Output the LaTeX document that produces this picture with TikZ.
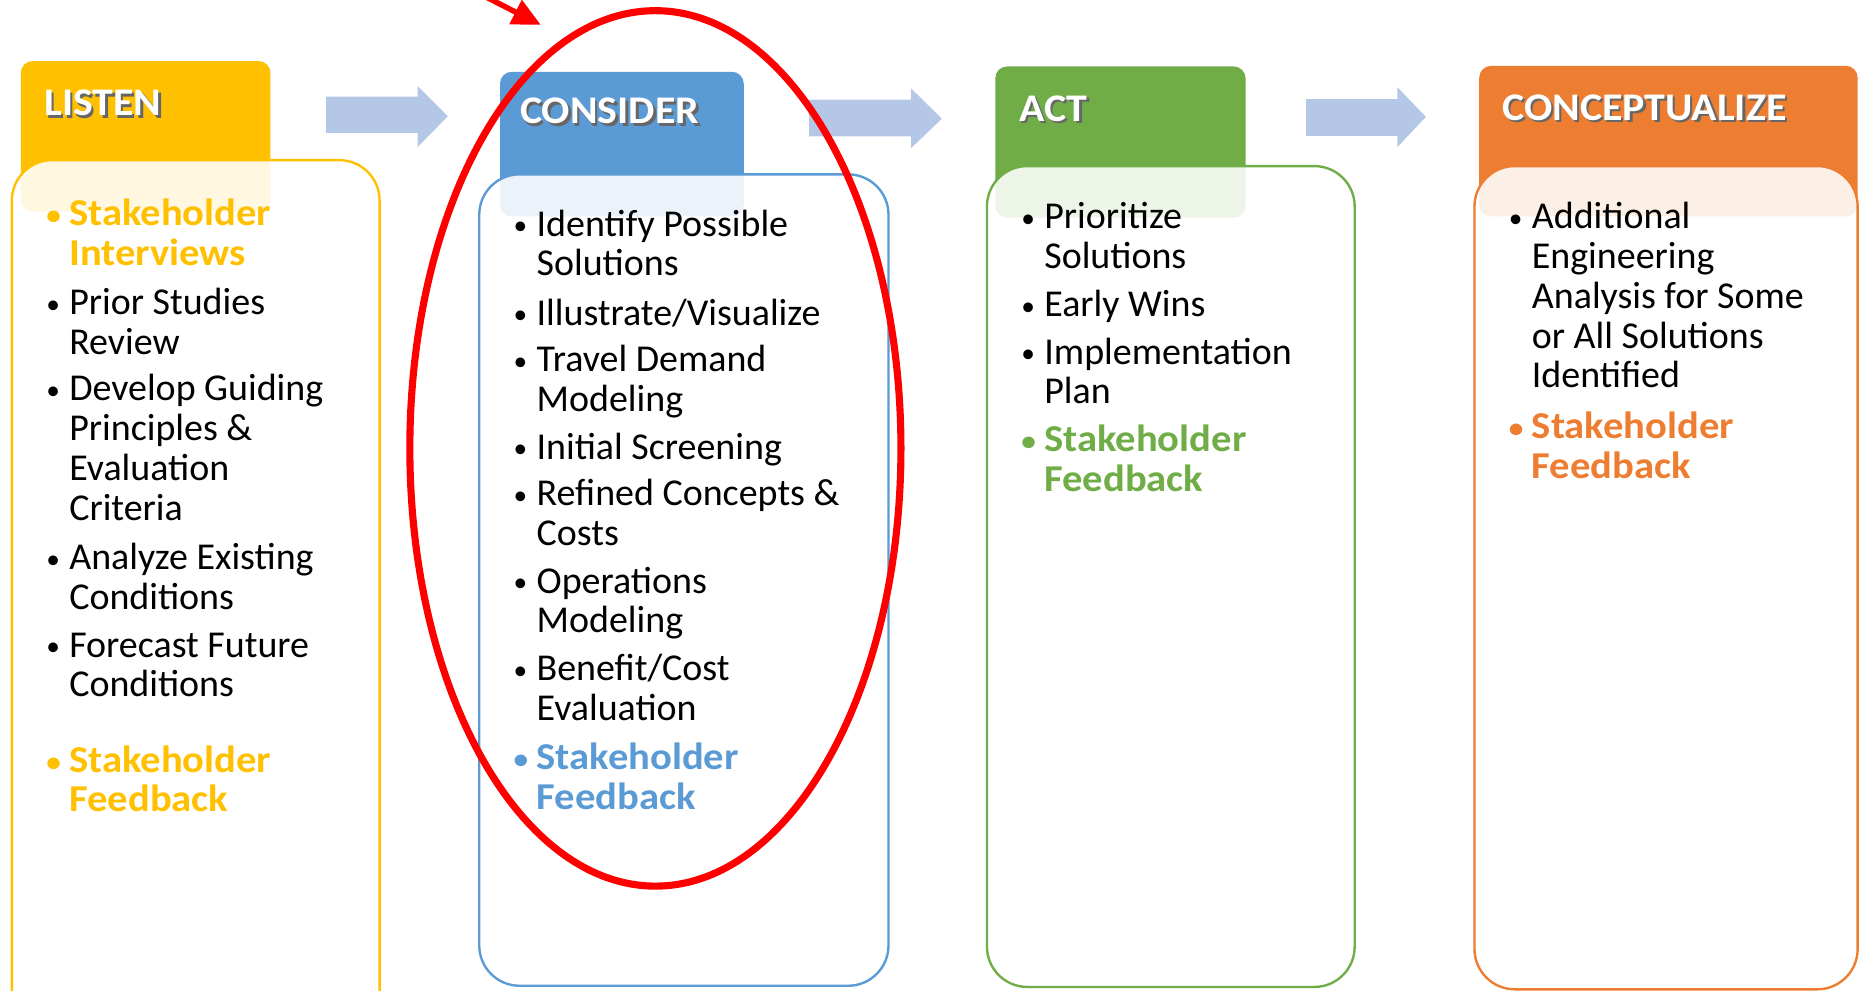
\documentclass[tikz,border=0pt]{standalone}
\usepackage{graphicx}
\usepackage{fontspec}
\setmainfont{Carlito}[BoldFeatures={FakeStretch=1.07}]
\usetikzlibrary{arrows.meta}

\definecolor{listenc}{HTML}{FFC000}
\definecolor{considerc}{HTML}{5B9BD5}
\definecolor{actc}{HTML}{70AD47}
\definecolor{conceptc}{HTML}{ED7D31}
\definecolor{flowc}{HTML}{B4C7E7}

% multi-line text whose baseline is the baseline of its first line
\newcommand\ptext[1]{\vtop{\baselineskip=16.75pt\lineskiplimit=-50pt\halign{##\hfil\cr#1\crcr}}}
% bulleted entry with a small hanging bullet
\newcommand\bul[1]{\llap{\makebox[10pt][l]{\hspace{0.3pt}\raisebox{0.5pt}{\scalebox{0.72}{\textbullet}}}}\ptext{#1}}
% white heading with a soft drop shadow
\newcommand\headtxt[1]{\rlap{\kern1pt\raisebox{-1pt}{\color{black!60}#1}}#1}

\begin{document}
\begin{tikzpicture}[x=0.5pt,y=-0.5pt,
  hdr/.style={fill=#1, rounded corners=5pt},
  bodybox/.style={draw=#1, line width=1pt, fill=white, fill opacity=0.88, rounded corners=17pt},
  flow/.style={fill=flowc},
  entry/.style={anchor=base west, inner sep=0pt, text=black,
    font=\fontsize{16}{16.75}\selectfont},
  keyentry/.style={entry, text=#1, font=\fontsize{16}{16.75}\selectfont\bfseries},
  title/.style={anchor=base west, inner sep=0pt, text=white,
    font=\fontsize{16.5}{18}\selectfont\bfseries}]

\useasboundingbox (0,0) rectangle (1568,835);
\clip (0,0) rectangle (1568,835);

% heading tabs
\path[hdr=listenc]   (17.5,51.5) rectangle (228,178.5);
\path[hdr=considerc] (421.5,60.5) rectangle (627,182.5);
\path[hdr=actc]      (839,56) rectangle (1050,183.5);
\path[hdr=conceptc]  (1247,55.5) rectangle (1566,182.5);

% content panels, laid over the lower part of each tab
\path[bodybox=listenc]   (10,135) rectangle (320,870);
\path[bodybox=considerc] (404,147) rectangle (749,831);
\path[bodybox=actc]      (832,140) rectangle (1142,832);
\path[bodybox=conceptc]  (1243,140) rectangle (1566,834);

% heading texts
\node[title] (tListen)   at (37,97.5)   {\headtxt{LISTEN}};
\node[title] (tConsider) at (438,104.5) {\headtxt{CONSIDER}};
\node[title] (tAct)      at (859,102.5) {\headtxt{ACT}};
\node[title] (tConcept)  at (1266,101.5){\headtxt{CONCEPTUALIZE}};

% block arrows between the stages
\path[flow] (275,81.5)--(352,81.5)--(352,72.5)--(377.5,98)--(352,124)--(352,112)--(275,112)--cycle;
\path[flow] (682,84)--(768,84)--(768,74.5)--(794,100)--(768,125)--(768,115)--(682,115)--cycle;
\path[flow] (1101,83.5)--(1178,83.5)--(1178,73.5)--(1202,98.5)--(1178,124)--(1178,114.5)--(1101,114.5)--cycle;

% LISTEN
\node[keyentry=listenc] (l1) at (58,190) {\bul{Stakeholder\cr Interviews}};
\node[entry] (l2) at (58,265) {\bul{Prior Studies\cr Review}};
\node[entry] (l3) at (58,338) {\bul{Develop Guiding\cr Principles \&\cr Evaluation\cr Criteria}};
\node[entry] (l4) at (58,480) {\bul{Analyze Existing\cr Conditions}};
\node[entry] (l5) at (58,554) {\bul{Forecast Future\cr Conditions}};
\node[keyentry=listenc] (l6) at (58,651) {\bul{Stakeholder\cr Feedback}};

% CONSIDER
\node[entry] (c1) at (452,199) {\bul{Identify Possible\cr Solutions}};
\node[entry] (c2) at (452,274) {\bul{Illustrate/Visualize}};
\node[entry] (c3) at (452,313) {\bul{Travel Demand\cr Modeling}};
\node[entry] (c4) at (452,387) {\bul{Initial Screening}};
\node[entry] (c5) at (452,426) {\bul{Refined Concepts \&\cr Costs}};
\node[entry] (c6) at (452,500) {\bul{Operations\cr Modeling}};
\node[entry] (c7) at (452,574) {\bul{Benefit/Cost\cr Evaluation}};
\node[keyentry=considerc] (c8) at (452,649) {\bul{Stakeholder\cr Feedback}};

% ACT
\node[entry] (a1) at (880,193) {\bul{Prioritize\cr Solutions}};
\node[entry] (a2) at (880,267) {\bul{Early Wins}};
\node[entry] (a3) at (880,307) {\bul{Implementation\cr Plan}};
\node[keyentry=actc] (a4) at (880,381) {\bul{Stakeholder\cr Feedback}};

% CONCEPTUALIZE
\node[entry] (p1) at (1291,193) {\bul{Additional\cr Engineering\cr Analysis for Some\cr or All Solutions\cr Identified}};
\node[keyentry=conceptc] (p2) at (1291,370) {\bul{Stakeholder\cr Feedback}};

% red highlight around the CONSIDER stage
\draw[red, line width=3pt] (552.5,378) ellipse [x radius=103.5pt, y radius=184.5pt];
\coordinate (rs) at (395,-10);
\coordinate (rt) at (456,21);
\draw[red, line width=2.3pt, -{Triangle[length=12pt,width=11pt]}] (rs) -- (rt);

\end{tikzpicture}
\end{document}
